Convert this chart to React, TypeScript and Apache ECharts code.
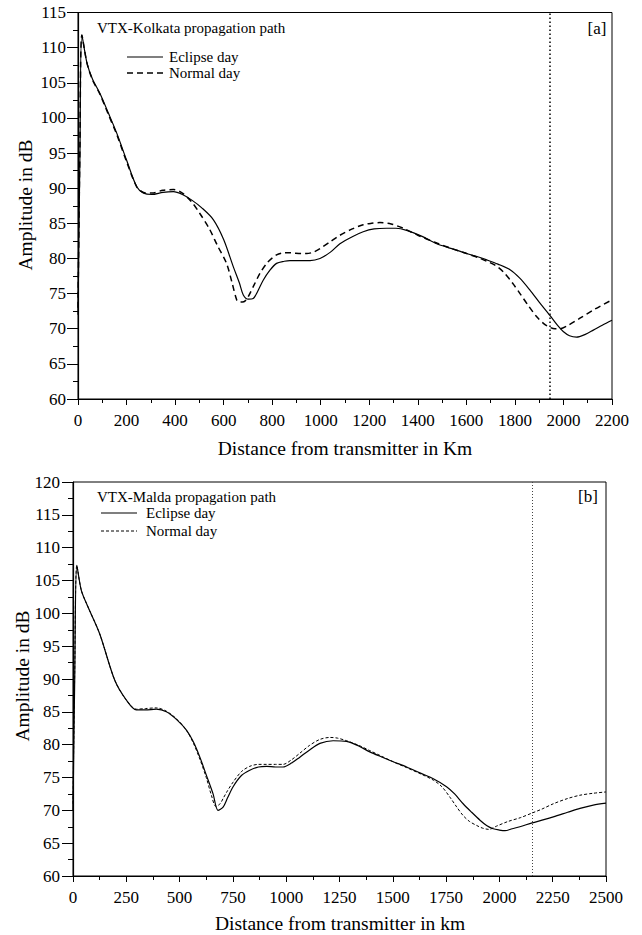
import React, { useEffect, useRef } from "react";
import * as echarts from "echarts";

// Panel [a]: VTX-Kolkata (distance km, amplitude dB)
const kolkataEclipse: [number, number][] = [
  [0, 72], [8, 95], [16, 111.8], [37, 107.8], [60, 105.5], [90, 103.5], [125, 100.7], [160, 97.8],
  [200, 94], [242, 90.2], [270, 89.3], [304, 89.1], [350, 89.4], [393, 89.5], [430, 89.1], [469, 88.3],
  [510, 87.2], [558, 85.5], [600, 82.7], [640, 78.8], [665, 76.5], [681, 74.8], [702, 74.2], [722, 74.3],
  [740, 75.3], [763, 76.9], [790, 78.3], [818, 79.3], [850, 79.6], [873, 79.7], [920, 79.7], [956, 79.7],
  [997, 80.0], [1040, 80.9], [1079, 82.1], [1130, 83.1], [1175, 83.8], [1220, 84.2], [1271, 84.3],
  [1310, 84.3], [1354, 84.0], [1420, 83.1], [1478, 82.1], [1540, 81.4], [1601, 80.7], [1650, 80.2],
  [1684, 79.8], [1730, 79.2], [1780, 78.4], [1820, 77.2], [1862, 75.5], [1900, 73.8], [1944, 71.9],
  [1975, 70.5], [1999, 69.6], [2025, 69.0], [2054, 68.8], [2090, 69.2], [2123, 69.8], [2160, 70.5],
  [2200, 71.2],
];
const kolkataNormal: [number, number][] = [
  [0, 73], [8, 96], [16, 111.8], [37, 107.8], [60, 105.4], [90, 103.4], [125, 100.5], [160, 97.6],
  [200, 93.8], [242, 90.2], [270, 89.4], [304, 89.3], [350, 89.7], [393, 89.8], [430, 89.3], [469, 88.0],
  [502, 86.4], [540, 84.3], [575, 81.8], [612, 79.3], [635, 76.5], [654, 74.1], [665, 73.8], [677, 73.8],
  [690, 74.0], [702, 74.6], [725, 76.2], [750, 77.9], [780, 79.4], [818, 80.5], [850, 80.8], [873, 80.8],
  [920, 80.7], [942, 80.7], [970, 80.9], [997, 81.4], [1040, 82.4], [1079, 83.3], [1130, 84.2],
  [1175, 84.8], [1210, 85.0], [1244, 85.1], [1290, 84.9], [1340, 84.3], [1400, 83.3], [1478, 82.2],
  [1540, 81.4], [1601, 80.7], [1650, 80.1], [1684, 79.6], [1720, 79.0], [1752, 78.1], [1790, 76.5],
  [1821, 75.0], [1855, 73.3], [1890, 71.7], [1920, 70.7], [1944, 70.2], [1965, 70.0], [1985, 70.0],
  [2020, 70.5], [2068, 71.5], [2130, 72.8], [2200, 74.1],
];
const kolkataReceiverKm = 1945;

// Panel [b]: VTX-Malda
const maldaEclipse: [number, number][] = [
  [0, 70], [8, 90], [18, 107.3], [39, 103.5], [70, 101.0], [125, 96.9], [196, 89.8], [250, 86.8],
  [297, 85.3], [340, 85.3], [391, 85.4], [438, 85.0], [490, 83.7], [532, 82.2], [565, 80.4], [595, 78.1],
  [625, 75.4], [657, 72.5], [680, 70.0], [704, 70.5], [725, 71.9], [751, 73.6], [790, 75.3], [829, 76.1],
  [870, 76.6], [908, 76.7], [950, 76.6], [985, 76.6], [1025, 77.2], [1064, 78.1], [1110, 79.2],
  [1158, 80.2], [1220, 80.6], [1283, 80.5], [1340, 79.8], [1392, 78.9], [1450, 78.1], [1502, 77.4],
  [1565, 76.6], [1627, 75.7], [1690, 74.8], [1752, 73.6], [1790, 72.5], [1830, 71.0], [1870, 69.7],
  [1909, 68.5], [1940, 67.7], [1971, 67.2], [2000, 67.0], [2026, 66.9], [2060, 67.2], [2096, 67.5],
  [2154, 68.1], [2200, 68.5], [2253, 69.0], [2320, 69.7], [2378, 70.3], [2440, 70.8], [2500, 71.1],
];
const maldaNormal: [number, number][] = [
  [0, 71], [8, 91], [18, 107.3], [39, 103.5], [70, 101.0], [125, 96.9], [196, 89.8], [250, 86.8],
  [297, 85.4], [340, 85.5], [391, 85.6], [438, 85.1], [490, 83.8], [532, 82.2], [565, 80.2], [595, 77.8],
  [625, 75.0], [650, 72.2], [670, 70.6], [690, 71.0], [704, 71.8], [725, 73.0], [751, 74.3], [790, 75.9],
  [829, 76.7], [870, 77.0], [908, 77.0], [950, 77.0], [985, 77.0], [1025, 77.7], [1064, 78.7],
  [1110, 79.9], [1158, 80.8], [1205, 81.1], [1240, 81.0], [1283, 80.6], [1340, 79.9], [1392, 79.1],
  [1450, 78.2], [1502, 77.4], [1565, 76.5], [1627, 75.6], [1690, 74.6], [1730, 73.6], [1768, 72.0],
  [1800, 70.5], [1830, 69.2], [1860, 68.3], [1893, 67.7], [1920, 67.3], [1950, 67.1], [1987, 67.6],
  [2040, 68.3], [2100, 68.9], [2154, 69.6], [2200, 70.2], [2253, 71.0], [2320, 71.8], [2378, 72.3],
  [2440, 72.6], [2500, 72.8],
];
const maldaReceiverKm = 2155;

const FONT = "Liberation Serif";

export default function App() {
  const ref = useRef<HTMLDivElement>(null);

  useEffect(() => {
    if (!ref.current) return;
    const chart = echarts.init(ref.current, null, { renderer: "svg" });

    const xAxis = (gridIndex: number, max: number, interval: number) => ({
      type: "value",
      gridIndex,
      min: 0,
      max,
      interval,
      axisLine: { onZero: false, lineStyle: { color: "#000", width: 1.2 } },
      axisTick: { show: true, inside: false, length: 6, lineStyle: { color: "#000", width: 1 } },
      minorTick: { show: true, splitNumber: 2, length: 4, lineStyle: { color: "#000", width: 1 } },
      splitLine: { show: false },
      minorSplitLine: { show: false },
      axisLabel: {
        color: "#000",
        fontFamily: FONT,
        fontSize: 17,
        margin: 13,
        formatter: (v: number) => String(v),
      },
    });
    const yAxis = (gridIndex: number, min: number, max: number, margin: number) => ({
      type: "value",
      gridIndex,
      min,
      max,
      interval: 5,
      axisLine: { onZero: false, lineStyle: { color: "#000", width: 1.2 } },
      axisTick: { show: true, inside: false, length: 11, lineStyle: { color: "#000", width: 1 } },
      minorTick: { show: true, splitNumber: 2, length: 5, lineStyle: { color: "#000", width: 1 } },
      splitLine: { show: false },
      minorSplitLine: { show: false },
      axisLabel: { color: "#000", fontFamily: FONT, fontSize: 17, margin, formatter: (v: number) => String(v) },
    });

    const solid = { color: "#000", width: 1.2, type: "solid" as const };

    const txt = (text: string, size: number) => ({ text, fontFamily: FONT, fontSize: size, fill: "#000" });

    const legend = (x: number, yTitle: number, y1: number, y2: number, title: string, lineEnd: number, textX: number, dash: number[], dashWidth: number) => [
      { type: "text", x, y: yTitle, style: { ...txt(title, 15), verticalAlign: "middle" } },
      { type: "line", shape: { x1: lineEnd - 36, y1: y1, x2: lineEnd, y2: y1 }, style: { stroke: "#000", lineWidth: 1.2 } },
      { type: "text", x: textX, y: y1, style: { ...txt("Eclipse day", 15), verticalAlign: "middle" } },
      { type: "line", shape: { x1: lineEnd - 36, y1: y2, x2: lineEnd, y2: y2 }, style: { stroke: "#000", lineWidth: dashWidth, lineDash: dash } },
      { type: "text", x: textX, y: y2, style: { ...txt("Normal day", 15), verticalAlign: "middle" } },
    ];

    const option: any = {
      animation: false,
      backgroundColor: "#fff",
      grid: [
        { left: 78, top: 12.5, width: 534, height: 386.5, show: true, borderColor: "#000", borderWidth: 1, backgroundColor: "transparent" },
        { left: 73, top: 482, width: 533, height: 394, show: true, borderColor: "#000", borderWidth: 1, backgroundColor: "transparent" },
      ],
      xAxis: [xAxis(0, 2200, 200), xAxis(1, 2500, 250)],
      yAxis: [yAxis(0, 60, 115, 12), yAxis(1, 60, 120, 13)],
      series: [
        {
          name: "Eclipse day",
          type: "line",
          xAxisIndex: 0,
          yAxisIndex: 0,
          data: kolkataEclipse,
          symbol: "none",
          smooth: 0.3,
          lineStyle: solid,
          markLine: {
            silent: true,
            symbol: ["none", "none"],
            label: { show: false },
            lineStyle: { color: "#000", width: 1.5, type: [1.5, 2.5] },
            data: [{ xAxis: kolkataReceiverKm }],
          },
        },
        {
          name: "Normal day",
          type: "line",
          xAxisIndex: 0,
          yAxisIndex: 0,
          data: kolkataNormal,
          symbol: "none",
          smooth: 0.3,
          lineStyle: { color: "#000", width: 1.5, type: [6, 4] },
        },
        {
          name: "Eclipse day",
          type: "line",
          xAxisIndex: 1,
          yAxisIndex: 1,
          data: maldaEclipse,
          symbol: "none",
          smooth: 0.3,
          lineStyle: solid,
          markLine: {
            silent: true,
            symbol: ["none", "none"],
            label: { show: false },
            lineStyle: { color: "#444", width: 1, type: [1, 2] },
            data: [{ xAxis: maldaReceiverKm }],
          },
        },
        {
          name: "Normal day",
          type: "line",
          xAxisIndex: 1,
          yAxisIndex: 1,
          data: maldaNormal,
          symbol: "none",
          smooth: 0.3,
          lineStyle: { color: "#000", width: 1, type: [3, 2] },
        },
      ],
      graphic: [
        ...legend(97, 28, 57, 73, "VTX-Kolkata propagation path", 163, 169, [6, 4], 1.5),
        ...legend(97, 497, 513, 531, "VTX-Malda propagation path", 137, 146, [3, 2], 1),
        { type: "text", x: 597, y: 28, style: { ...txt("[a]", 17), align: "center", verticalAlign: "middle" } },
        { type: "text", x: 588, y: 496, style: { ...txt("[b]", 17), align: "center", verticalAlign: "middle" } },
        { type: "text", x: 345, y: 448, style: { ...txt("Distance from transmitter in Km", 19.5), align: "center", verticalAlign: "middle" } },
        { type: "text", x: 340, y: 923, style: { ...txt("Distance from transmitter in km", 19.5), align: "center", verticalAlign: "middle" } },
        { type: "text", x: 25, y: 205, rotation: Math.PI / 2, style: { ...txt("Amplitude in dB", 19.5), align: "center", verticalAlign: "middle" } },
        { type: "text", x: 22, y: 676, rotation: Math.PI / 2, style: { ...txt("Amplitude in dB", 19.5), align: "center", verticalAlign: "middle" } },
      ],
    };

    chart.setOption(option);
    return () => chart.dispose();
  }, []);

  return <div ref={ref} style={{ position: "absolute", left: 0, top: 0, width: 642, height: 935 }} />;
}
